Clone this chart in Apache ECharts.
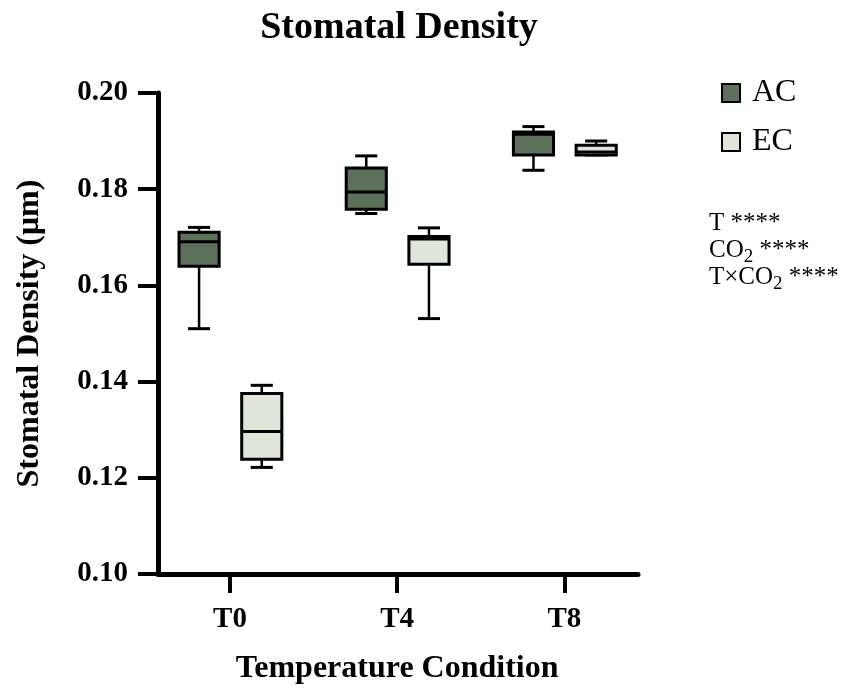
<!DOCTYPE html>
<html>
<head>
<meta charset="utf-8">
<title>Stomatal Density</title>
<script src="https://cdn.jsdelivr.net/npm/echarts@6/dist/echarts.min.js"></script>
<style>
  html, body { margin: 0; padding: 0; background: #fff; }
  #main { width: 844px; height: 690px; }
</style>
</head>
<body>
<div id="main"></div>
<script>
var categories = ['T0', 'T4', 'T8'];
// each row: [min, Q1, median, Q3, max]
var acBox = [
  [0.1509, 0.1639, 0.1690, 0.1710, 0.1720],
  [0.1749, 0.1758, 0.1794, 0.1844, 0.1869],
  [0.1839, 0.1871, 0.1914, 0.1919, 0.1930]
];
var ecBox = [
  [0.1220, 0.1237, 0.1295, 0.1374, 0.1391],
  [0.1530, 0.1643, 0.1696, 0.1701, 0.1719],
  [0.1871, 0.1871, 0.1877, 0.1891, 0.1900]
];
var yTicks = [0.10, 0.12, 0.14, 0.16, 0.18, 0.20];

var serif = '"Liberation Serif", "DejaVu Serif", serif';

function toRows(list) {
  return list.map(function (b, i) {
    return [i].concat(b);
  });
}

// box drawn through the axis scales, shifted sideways inside the band
function boxRenderer(shift, fill) {
  return function (params, api) {
    var idx = api.value(0);
    var band = api.size([1, 0])[0];
    var cx = api.coord([idx, 0])[0] + band * shift;
    var half = band * 0.12;
    var cap = band * 0.066;
    var yMin = api.coord([idx, api.value(1)])[1];
    var yQ1 = api.coord([idx, api.value(2)])[1];
    var yMed = api.coord([idx, api.value(3)])[1];
    var yQ3 = api.coord([idx, api.value(4)])[1];
    var yMax = api.coord([idx, api.value(5)])[1];
    var line = { stroke: '#000', lineWidth: 2.5 };
    return {
      type: 'group',
      children: [
        { type: 'line', shape: { x1: cx, y1: yMax, x2: cx, y2: yQ3 }, style: line },
        { type: 'line', shape: { x1: cx, y1: yQ1, x2: cx, y2: yMin }, style: line },
        { type: 'line', shape: { x1: cx - cap, y1: yMax, x2: cx + cap, y2: yMax }, style: { stroke: '#000', lineWidth: 3 } },
        { type: 'line', shape: { x1: cx - cap, y1: yMin, x2: cx + cap, y2: yMin }, style: { stroke: '#000', lineWidth: 3 } },
        { type: 'rect', shape: { x: cx - half, y: yQ3, width: half * 2, height: yQ1 - yQ3 },
          style: { fill: fill, stroke: '#000', lineWidth: 3 } },
        { type: 'line', shape: { x1: cx - half, y1: yMed, x2: cx + half, y2: yMed }, style: { stroke: '#000', lineWidth: 3 } }
      ]
    };
  };
}

var chart = echarts.init(document.getElementById('main'));
var acColor = '#5c705c';
var ecColor = '#dfe5d8';

var option = {
  animation: false,
  title: {
    text: 'Stomatal Density',
    left: 394,
    textAlign: 'center',
    top: 4,
    textStyle: { fontFamily: serif, fontWeight: 'bold', fontSize: 38, color: '#000' }
  },
  legend: {
    orient: 'vertical',
    left: 716,
    top: 72,
    itemWidth: 18,
    itemHeight: 18,
    itemGap: 17,
    icon: 'rect',
    itemStyle: { borderColor: '#000', borderWidth: 2 },
    textStyle: { fontFamily: serif, fontSize: 32, color: '#000', lineHeight: 32, padding: [0, 0, 0, 7] },
    data: ['AC', 'EC']
  },
  graphic: [{
    type: 'text',
    left: 709,
    top: 211,
    style: {
      text: '{n|T ****}\n{n|CO}{s|2}{n| ****}\n{n|T×CO}{s|2}{n| ****}',
      rich: {
        n: { fontFamily: serif, fontSize: 25, lineHeight: 27, fill: '#000' },
        s: { fontFamily: serif, fontSize: 19, lineHeight: 27, fill: '#000', padding: [14, 0, 0, 0] }
      }
    }
  }],
  grid: [
    // frame for the axis lines
    { left: 158, top: 93, width: 480, height: 481 },
    // category band for ticks, labels and boxes
    { left: 146.4, top: 93, width: 501.6, height: 481 }
  ],
  xAxis: [{
    gridIndex: 0,
    type: 'value',
    min: 0,
    max: 1,
    axisLine: { show: true, lineStyle: { color: '#000', width: 5 } },
    axisTick: { show: false },
    axisLabel: { show: false },
    splitLine: { show: false }
  }, {
    gridIndex: 1,
    type: 'category',
    data: categories,
    name: 'Temperature Condition',
    nameLocation: 'middle',
    nameGap: 80,
    nameTextStyle: { fontFamily: serif, fontWeight: 'bold', fontSize: 32, color: '#000' },
    axisLine: { show: false },
    axisTick: { show: true, alignWithLabel: true, length: 20, lineStyle: { color: '#000', width: 4 } },
    axisLabel: { margin: 32, fontFamily: serif, fontWeight: 'bold', fontSize: 29, color: '#000' },
    splitLine: { show: false }
  }],
  yAxis: [{
    gridIndex: 0,
    type: 'value',
    min: yTicks[0],
    max: yTicks[yTicks.length - 1],
    interval: 0.02,
    name: 'Stomatal Density (μm)',
    nameLocation: 'middle',
    nameGap: 112,
    nameTextStyle: { fontFamily: serif, fontWeight: 'bold', fontSize: 32, color: '#000' },
    axisLine: { show: true, lineStyle: { color: '#000', width: 5 } },
    axisTick: { show: true, length: 20, lineStyle: { color: '#000', width: 4 } },
    axisLabel: {
      margin: 30, fontFamily: serif, fontWeight: 'bold', fontSize: 29, color: '#000',
      formatter: function (v) { return v.toFixed(2); }
    },
    splitLine: { show: false }
  }, {
    gridIndex: 1,
    type: 'value',
    min: yTicks[0],
    max: yTicks[yTicks.length - 1],
    show: false
  }],
  series: [{
    name: 'AC',
    type: 'custom',
    xAxisIndex: 1,
    yAxisIndex: 1,
    itemStyle: { color: acColor },
    encode: { x: 0, y: [1, 2, 3, 4, 5] },
    renderItem: boxRenderer(-0.185, acColor),
    data: toRows(acBox)
  }, {
    name: 'EC',
    type: 'custom',
    xAxisIndex: 1,
    yAxisIndex: 1,
    itemStyle: { color: ecColor },
    encode: { x: 0, y: [1, 2, 3, 4, 5] },
    renderItem: boxRenderer(0.19, ecColor),
    data: toRows(ecBox)
  }]
};
chart.setOption(option);
</script>
</body>
</html>
